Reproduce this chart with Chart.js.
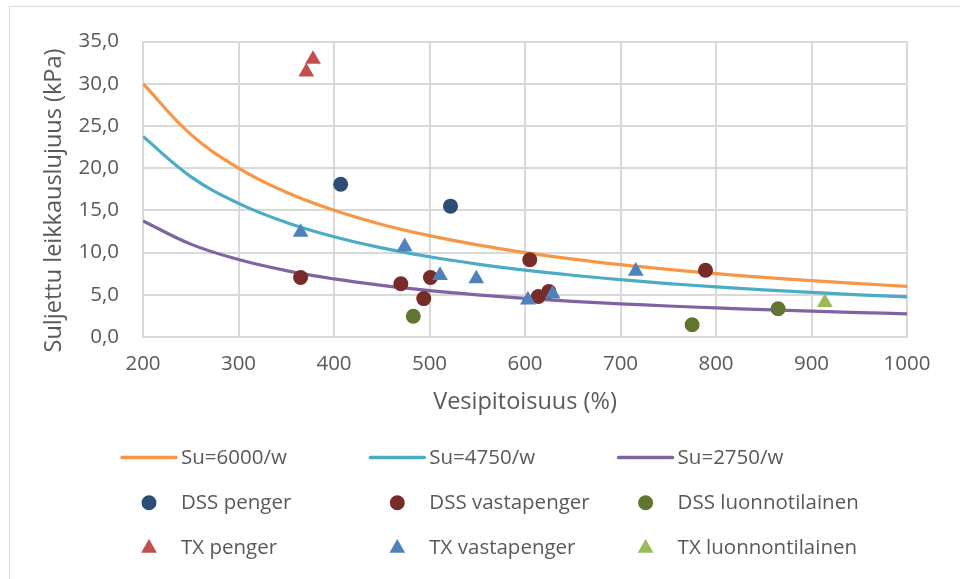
<!DOCTYPE html>
<html>
<head>
<meta charset="utf-8">
<title>Suljettu leikkauslujuus vs. vesipitoisuus</title>
<script src="https://cdn.jsdelivr.net/npm/chart.js@4/dist/chart.umd.min.js"></script>
<style>
  html, body { margin: 0; padding: 0; background: #ffffff; }
  canvas { display: block; }
</style>
</head>
<body>
<canvas id="chart" width="960" height="579"></canvas>
<script>
// Water content values (%) at which the reference curves Su = k / w are tabulated
const curveW = [200, 250, 300, 350, 400, 450, 500, 550, 600, 650, 700, 750, 800, 850, 900, 950, 1000];
const su6000 = [30.0, 24.0, 20.0, 17.14, 15.0, 13.33, 12.0, 10.91, 10.0, 9.23, 8.57, 8.0, 7.5, 7.06, 6.67, 6.32, 6.0];
const su4750 = [23.75, 19.0, 15.83, 13.57, 11.88, 10.56, 9.5, 8.64, 7.92, 7.31, 6.79, 6.33, 5.94, 5.59, 5.28, 5.0, 4.75];
const su2750 = [13.75, 11.0, 9.17, 7.86, 6.88, 6.11, 5.5, 5.0, 4.58, 4.23, 3.93, 3.67, 3.44, 3.24, 3.06, 2.89, 2.75];

// Laboratory results: water content w (%) and undrained shear strength Su (kPa)
const dssPengerW = [407, 522];
const dssPengerSu = [18.1, 15.5];
const dssVastaW = [365, 470, 494, 501, 605, 614, 625, 789];
const dssVastaSu = [7.05, 6.3, 4.55, 7.05, 9.15, 4.8, 5.4, 7.9];
const dssLuonnW = [483, 775, 865];
const dssLuonnSu = [2.45, 1.45, 3.35];
const txPengerW = [371, 378];
const txPengerSu = [31.4, 32.9];
const txVastaW = [365, 474, 511, 549, 603, 629, 716];
const txVastaSu = [12.4, 10.7, 7.3, 6.9, 4.4, 5.1, 7.8];
const txLuonnW = [914];
const txLuonnSu = [4.1];

// Axis tick labels
const xTickLabels = ['200', '300', '400', '500', '600', '700', '800', '900', '1000'];
const yTickLabels = ['0,0', '5,0', '10,0', '15,0', '20,0', '25,0', '30,0', '35,0'];

const FONT = '"Open Sans", "Liberation Sans", sans-serif';
const TEXT = '#595959';
const GRID = '#d9d9d9';

function pts(xs, ys) {
  return xs.map((x, i) => ({ x: x, y: ys[i] }));
}

function curve(label, ys, color) {
  return {
    label: label,
    data: pts(curveW, ys),
    showLine: true,
    borderColor: color,
    backgroundColor: color,
    borderWidth: 3.2,
    pointRadius: 0,
    pointHoverRadius: 0,
    tension: 0.4,
    fill: false
  };
}

function markers(label, xs, ys, color, style) {
  const r = style === 'triangle' ? 9.1 : 7.5;
  return {
    label: label,
    data: pts(xs, ys),
    showLine: false,
    pointStyle: style,
    pointRadius: r,
    pointHoverRadius: r,
    backgroundColor: color,
    borderColor: color,
    borderWidth: 0
  };
}

const datasets = [
  curve('Su=6000/w', su6000, '#F79646'),
  curve('Su=4750/w', su4750, '#4BACC6'),
  curve('Su=2750/w', su2750, '#8064A2'),
  markers('DSS penger', dssPengerW, dssPengerSu, '#2C4D75', 'circle'),
  markers('DSS vastapenger', dssVastaW, dssVastaSu, '#772C2A', 'circle'),
  markers('DSS luonnotilainen', dssLuonnW, dssLuonnSu, '#5F7530', 'circle'),
  markers('TX penger', txPengerW, txPengerSu, '#C0504D', 'triangle'),
  markers('TX vastapenger', txVastaW, txVastaSu, '#4F81BD', 'triangle'),
  markers('TX luonnontilainen', txLuonnW, txLuonnSu, '#9BBB59', 'triangle')
];
// later series are painted over earlier ones
datasets.forEach((d, i) => { d.order = datasets.length - i; });

// Three-column legend below the plot: lines on the first row, DSS and TX markers below
const gridLegend = {
  id: 'gridLegend',
  afterDraw(chart) {
    const ctx = chart.ctx;
    ctx.save();
    ctx.font = '20.5px ' + FONT;
    ctx.textBaseline = 'middle';
    ctx.textAlign = 'left';
    chart.data.datasets.forEach((ds, i) => {
      const col = i % 3;
      const row = Math.floor(i / 3);
      const x0 = 122 + col * 248.3;
      const y = 457.5 + row * 45.3;
      if (ds.showLine) {
        ctx.strokeStyle = ds.borderColor;
        ctx.lineWidth = 3.4;
        ctx.lineCap = 'round';
        ctx.beginPath();
        ctx.moveTo(x0, y);
        ctx.lineTo(x0 + 54, y);
        ctx.stroke();
      } else {
        ctx.fillStyle = ds.backgroundColor;
        ctx.strokeStyle = ds.backgroundColor;
        Chart.helpers.drawPoint(ctx, {
          pointStyle: ds.pointStyle,
          radius: ds.pointRadius,
          rotation: 0,
          borderWidth: 0
        }, x0 + 27, y);
      }
      ctx.fillStyle = TEXT;
      ctx.fillText(ds.label, x0 + 59, y + 0.5);
    });
    ctx.restore();
  }
};

// Vertical axis title and the thin frame of the chart object
const frameAndTitle = {
  id: 'frameAndTitle',
  afterDraw(chart) {
    const ctx = chart.ctx;
    ctx.save();
    ctx.strokeStyle = GRID;
    ctx.lineWidth = 1;
    ctx.beginPath();
    ctx.moveTo(9.5, 579);
    ctx.lineTo(9.5, 6.5);
    ctx.lineTo(960, 6.5);
    ctx.stroke();

    ctx.translate(54.5, 200.5);
    ctx.rotate(-Math.PI / 2);
    ctx.font = '23.5px ' + FONT;
    ctx.fillStyle = TEXT;
    ctx.textAlign = 'center';
    ctx.textBaseline = 'middle';
    ctx.fillText('Suljettu leikkauslujuus (kPa)', 0, 0);
    ctx.restore();
  }
};

new Chart(document.getElementById('chart'), {
  type: 'scatter',
  data: { datasets: datasets },
  options: {
    responsive: false,
    animation: false,
    devicePixelRatio: 1,
    events: [],
    layout: { padding: { left: 0, right: 53, top: 41.5, bottom: 152 } },
    plugins: {
      legend: { display: false },
      tooltip: { enabled: false }
    },
    scales: {
      x: {
        type: 'linear',
        min: 200,
        max: 1000,
        afterFit(scale) { scale.height = 90; },
        afterBuildTicks(scale) {
          scale.ticks = xTickLabels.map(t => ({ value: Number(t) }));
        },
        ticks: {
          padding: 15,
          color: TEXT,
          font: { family: FONT, size: 20.5 },
          maxRotation: 0,
          callback: (v, i) => xTickLabels[i]
        },
        grid: { color: GRID, lineWidth: 2, drawTicks: false },
        border: { display: true, color: GRID, width: 2 },
        title: {
          display: true,
          text: 'Vesipitoisuus (%)',
          color: TEXT,
          font: { family: FONT, size: 23.5 },
          padding: { top: 0, bottom: 10.4 }
        }
      },
      y: {
        type: 'linear',
        min: 0,
        max: 35,
        afterFit(scale) { scale.width = 143; },
        afterBuildTicks(scale) {
          scale.ticks = yTickLabels.map(t => ({ value: Number(t.replace(',', '.')) }));
        },
        ticks: {
          padding: 24,
          color: TEXT,
          font: { family: FONT, size: 20.5 },
          callback: (v, i) => yTickLabels[i]
        },
        grid: { color: GRID, lineWidth: 2, drawTicks: false },
        border: { display: true, color: GRID, width: 2 }
      }
    }
  },
  plugins: [gridLegend, frameAndTitle]
});
</script>
</body>
</html>
